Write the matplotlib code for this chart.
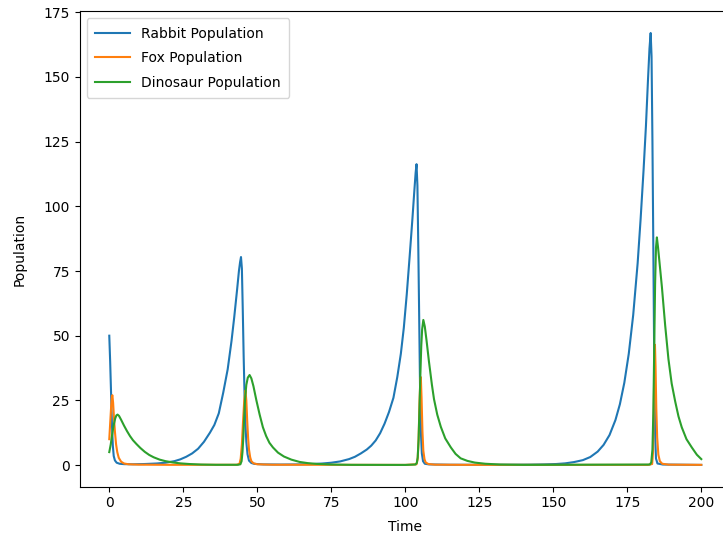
import matplotlib
matplotlib.use('Agg')
import matplotlib.pyplot as plt

#### DATA ####
# rabbit population (time, value)
rabbit_t = [0, 0.3, 0.6, 0.9, 1.2, 1.5, 1.9, 2.5, 3.5, 5, 8, 12, 16, 19, 22, 24,
            26, 28, 30, 32, 34, 35.5, 37, 38.5, 40, 41.3, 42.2, 43.2, 43.8, 44.2,
            44.5, 44.8, 45.1, 45.4, 45.7, 46.0, 46.3, 46.7, 47.2, 48, 49, 52, 58,
            64, 68, 72, 75, 78, 81, 83, 85, 87, 88.5, 90, 91.5, 93, 94.5, 96,
            97.3, 98.5, 99.5, 100.5, 101.5, 102.4, 103, 103.5, 103.8, 104.1,
            104.4, 104.7, 105.0, 105.3, 105.6, 106.0, 106.6, 108, 115, 125, 135,
            142, 147, 151, 154, 157, 160, 162.5, 165, 167, 169, 171, 172.5, 174,
            175.5, 177, 178.5, 179.5, 180.5, 181.3, 182, 182.5, 182.9, 183.2,
            183.5, 183.8, 184.1, 184.4, 184.7, 185.2, 187, 200]
rabbit = [50, 40, 28, 16, 7.5, 3.5, 1.8, 0.9, 0.5, 0.35, 0.3, 0.4, 0.6, 0.9, 1.5, 2.2,
          3.2, 4.5, 6.3, 9, 12.5, 15.5, 20, 28, 37, 48, 57, 68, 75, 78.5,
          80.4, 76, 60, 42, 27, 16, 9, 4.2, 1.7, 0.8, 0.45, 0.25, 0.2,
          0.25, 0.35, 0.6, 0.9, 1.4, 2.3, 3.2, 4.5, 6, 7.5, 9.5, 12.3, 16, 20.5, 26,
          34, 43, 53, 66, 81, 95, 105, 113, 116.3, 108,
          84, 57, 29, 12, 4.5, 1.5, 0.5, 0.25, 0.12, 0.1, 0.1,
          0.15, 0.25, 0.4, 0.65, 1.15, 1.9, 3.1, 5.2, 7.8, 11.6, 17.4, 23.5, 31.8,
          43, 58, 78, 95, 114, 131, 149, 161, 167, 158,
          125, 84, 40, 12, 2.5, 0.6, 0.2, 0.05]

# fox population (time, value)
fox_t = [0, 0.3, 0.6, 0.9, 1.05, 1.3, 1.6, 1.9, 2.3, 2.7, 3.2, 4, 5, 6.5, 10, 20,
         43, 44.0, 44.4, 44.8, 45.2, 45.6, 46.0, 46.3, 46.6, 46.9, 47.2, 47.6,
         48.0, 48.7, 50, 55, 100, 103.8, 104.2, 104.5, 104.8, 105.1, 105.25,
         105.5, 105.8, 106.1, 106.5, 106.9, 107.8, 110, 120, 182, 183.4, 183.7,
         183.95, 184.15, 184.35, 184.55, 184.8, 185.1, 185.5, 186.0, 186.8, 189,
         200]
fox = [10, 16, 22, 26.5, 27, 24, 18, 13, 8, 5, 2.8, 1.3, 0.6, 0.3, 0.15, 0.08,
       0.1, 0.5, 2.5, 8, 17, 25, 28.8, 25, 17, 10.5, 6, 3,
       1.5, 0.7, 0.3, 0.12, 0.05, 0.3, 2.5, 10, 24, 33, 34,
       26, 13, 5.5, 2.2, 1, 0.4, 0.15, 0.08, 0.05, 0.4, 5,
       22, 40, 46.5, 38, 22, 10.7, 4, 1.5, 0.5, 0.15,
       0.08]

# dinosaur population (time, value)
dino_t = [0, 0.5, 1.0, 1.5, 2.0, 2.4, 2.8, 3.3, 4.0, 5.0, 6.0, 7.0, 8.0, 9.2, 10.5,
          12, 13.5, 15, 17, 19, 21.5, 24, 27, 31, 36, 43.5, 44.3, 44.7, 45.0,
          45.3, 45.6, 45.9, 46.3, 46.8, 47.4, 48.0, 48.7, 49.7, 50.8, 51.9, 53,
          54.1, 55.3, 57, 59, 61.5, 64.3, 67, 70, 75, 82, 100, 103.4, 103.9,
          104.2, 104.5, 104.8, 105.1, 105.4, 105.7, 106.1, 106.6, 107.2, 108,
          109, 109.7, 110.8, 112, 113.5, 115.4, 117, 118.7, 121, 123.5, 127, 132,
          140, 182.6, 183.1, 183.5, 183.8, 184.1, 184.4, 184.7, 185.0, 185.4,
          186.0, 186.7, 187.8, 188.9, 190, 191.2, 192.3, 193.4, 195, 196.8,
          198.5, 200]
dino = [5, 8, 12, 15.5, 18, 19.2, 19.5, 19, 17.5, 15.2, 13.1, 11.2, 9.6, 8.1, 6.6,
        5.1, 3.9, 3, 2.1, 1.5, 1.0, 0.65, 0.4, 0.2, 0.1, 0.1, 0.3, 1.5, 5,
        11, 19, 26, 31, 33.8, 34.8, 33.5, 30.5, 25, 19.5, 14.6, 11.2,
        8.6, 6.8, 4.8, 3.3, 2.1, 1.2, 0.75, 0.45, 0.2, 0.08, 0.05, 0.2, 0.8,
        3, 10, 22, 35, 46, 52.5, 56.1, 53.5, 48, 40,
        31, 25.5, 19.5, 14.8, 10.3, 6.8, 4.3, 2.6, 1.6, 0.95, 0.5, 0.2,
        0.08, 0.2, 1, 6, 20, 45, 70, 84, 88, 84,
        77, 68.8, 54, 41, 31.5, 24.5, 18.8, 14.6, 10, 6.8,
        4, 2.3]

#### PLOTTING ####
fig = plt.figure(figsize=(7.23, 5.38), dpi=100)
# axes run past the right edge, like the cropped original
ax = fig.add_axes([0.1102, 0.0957, 0.9007, 0.8831])

ax.plot(rabbit_t, rabbit, label='Rabbit Population')
ax.plot(fox_t, fox, label='Fox Population')
ax.plot(dino_t, dino, label='Dinosaur Population')

ax.set_xlabel('Time', labelpad=7)
ax.set_ylabel('Population', labelpad=12)
ax.set_xticks([0, 25, 50, 75, 100, 125, 150, 175, 200])
ax.set_yticks([0, 25, 50, 75, 100, 125, 150, 175])
ax.legend(loc='upper left', handlelength=2.5, labelspacing=0.75,
          borderpad=0.6, handletextpad=0.85)

fig.savefig('out.png', dpi=100)
